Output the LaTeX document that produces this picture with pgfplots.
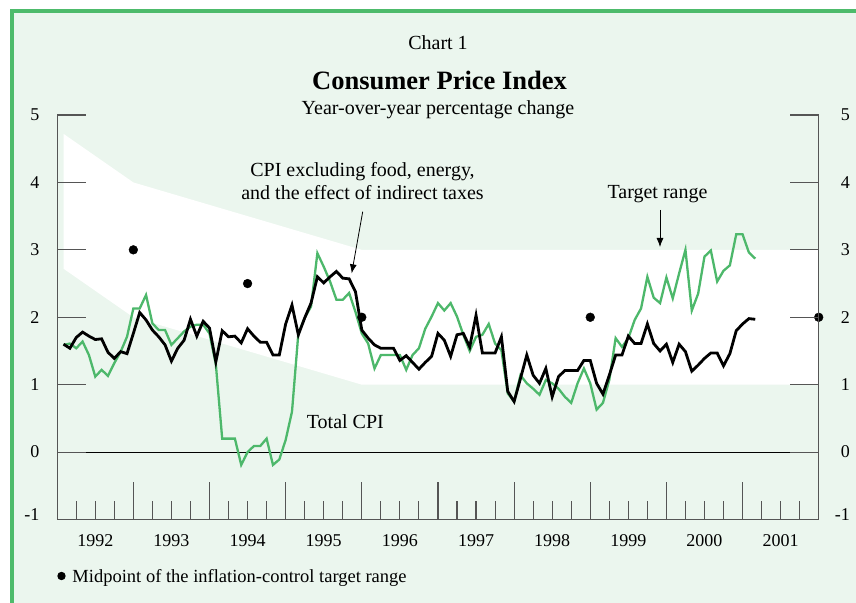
\documentclass[border=0pt]{standalone}
\usepackage{fontspec}
\setmainfont{Liberation Serif}
\usepackage{pgfplots}
\usepackage{pgfplotstable}
\pgfplotsset{compat=1.18}
\usetikzlibrary{arrows.meta}

\definecolor{mint}{HTML}{EBF6EE}
\definecolor{cpigreen}{HTML}{4DB86B}
\definecolor{framegreen}{HTML}{4DBB6B}
\definecolor{tickgray}{HTML}{555555}

% month index: 1 = Jan 1992 ... 110 = Feb 2001
\pgfplotstableread{
m core total
1 1.60 1.59
2 1.54 1.61
3 1.70 1.54
4 1.78 1.64
5 1.72 1.44
6 1.67 1.12
7 1.68 1.22
8 1.48 1.13
9 1.39 1.32
10 1.49 1.49
11 1.46 1.71
12 1.76 2.13
13 2.07 2.13
14 1.96 2.33
15 1.81 1.91
16 1.71 1.81
17 1.59 1.81
18 1.35 1.59
19 1.54 1.69
20 1.66 1.79
21 1.97 1.86
22 1.72 1.89
23 1.94 1.89
24 1.84 1.76
25 1.34 1.30
26 1.80 0.20
27 1.71 0.20
28 1.72 0.20
29 1.62 -0.19
30 1.83 0.00
31 1.72 0.09
32 1.63 0.09
33 1.63 0.20
34 1.44 -0.19
35 1.44 -0.11
36 1.90 0.18
37 2.18 0.60
38 1.74 1.76
39 1.99 1.99
40 2.21 2.16
41 2.60 2.95
42 2.51 2.75
43 2.60 2.53
44 2.68 2.26
45 2.58 2.26
46 2.57 2.36
47 2.38 2.08
48 1.81 1.76
49 1.69 1.61
50 1.59 1.24
51 1.54 1.44
52 1.54 1.44
53 1.54 1.44
54 1.36 1.44
55 1.43 1.22
56 1.33 1.44
57 1.23 1.54
58 1.33 1.83
59 1.42 2.01
60 1.76 2.21
61 1.66 2.10
62 1.42 2.21
63 1.74 2.01
64 1.76 1.74
65 1.56 1.50
66 2.03 1.71
67 1.47 1.74
68 1.47 1.90
69 1.47 1.61
70 1.71 1.51
71 0.90 0.87
72 0.75 0.75
73 1.09 1.14
74 1.44 1.02
75 1.14 0.94
76 1.02 0.85
77 1.24 1.07
78 0.82 1.02
79 1.12 0.94
80 1.21 0.82
81 1.21 0.73
82 1.21 1.02
83 1.36 1.24
84 1.36 1.02
85 1.02 0.63
86 0.86 0.73
87 1.14 1.07
88 1.44 1.69
89 1.44 1.56
90 1.72 1.69
91 1.61 1.96
92 1.61 2.13
93 1.90 2.60
94 1.61 2.29
95 1.50 2.21
96 1.60 2.59
97 1.33 2.28
98 1.60 2.65
99 1.49 3.00
100 1.20 2.10
101 1.29 2.35
102 1.39 2.90
103 1.47 2.99
104 1.47 2.53
105 1.28 2.69
106 1.46 2.77
107 1.80 3.23
108 1.90 3.23
109 1.98 2.96
110 1.97 2.87
}\cpidata

\newcommand{\fsz}[1]{\fontsize{#1bp}{#1bp}\selectfont}

\pgfplotsset{
  cpiframe/.style={
    at={(57.2bp,-519.5bp)}, anchor=south west,
    scale only axis, width=761.5bp, height=404.5bp,
    xmin=0, xmax=120, ymin=-1, ymax=5,
    tick align=inside,
    axis line style={tickgray, line width=1.1bp},
    tick style={tickgray, line width=1.1bp},
    tick label style={font=\fsz{18}, inner sep=0pt},
  },
}

\begin{document}
\begin{tikzpicture}[x=1bp,y=1bp]
\fill[white] (0,0) rectangle (856,-603);
\fill[mint] (12,-11.3) rectangle (856,-603);
\draw[framegreen, line width=4bp] (12,-9.3) -- (12,-603);
\draw[framegreen, line width=4bp] (10,-11.3) -- (856,-11.3);

% main axis: band, data, left scale
\begin{axis}[cpiframe, clip=false, axis on top,
  axis x line*=bottom, axis y line*=left,
  xtick=\empty,
  ytick={0,1,2,3,4,5}, yticklabels={0,1,2,3,4,5},
  extra y ticks={-1}, extra y tick labels={-1},
  extra y tick style={yticklabel style={yshift=5bp}},
  major tick length=29bp,
  yticklabel style={anchor=east, xshift=-17.7bp}]
\addplot[fill=white, draw=none] coordinates
  {(1,4.72) (12,4) (48,3) (120,3) (120,1) (48,1) (12,2) (1,2.72)} -- cycle;
\addplot[black, line width=0.9bp] coordinates {(0,0) (120,0)};
\addplot[cpigreen, line width=2.3bp] table[x=m, y=total] {\cpidata};
\addplot[black, line width=2.8bp] table[x=m, y=core] {\cpidata};
\addplot[only marks, mark=*, mark size=4.4bp, black] coordinates
  {(12,3) (30,2.5) (48,2) (84,2) (120,2)};
\end{axis}

% right scale
\begin{axis}[cpiframe,
  axis x line=none, axis y line*=right,
  ytick={0,1,2,3,4,5}, yticklabels={0,1,2,3,4,5},
  extra y ticks={-1}, extra y tick labels={-1},
  extra y tick style={yticklabel style={yshift=5bp}},
  major tick length=29bp,
  yticklabel style={anchor=east, xshift=31.3bp}]
\end{axis}

% time scale
\begin{axis}[cpiframe,
  axis y line=none, axis x line*=bottom,
  xtick={0,12,...,120}, xticklabels={,,,,,,,,,,},
  minor xtick={3,6,...,117},
  major tick length=38bp, minor tick length=19bp,
  extra x ticks={6,18,...,114},
  extra x tick labels={1992,1993,1994,1995,1996,1997,1998,1999,2000,2001},
  extra x tick style={major tick length=0pt},
  xticklabel style={anchor=base, yshift=-27.2bp}]
\end{axis}

\node[anchor=base, font=\fsz{20}] at (438,-50) {Chart 1};
\node[anchor=base, font=\bfseries\fsz{26.5}] at (439.5,-90) {Consumer Price Index};
\node[anchor=base, font=\fsz{20}] at (438,-115) {Year-over-year percentage change};
\node[anchor=base, font=\fsz{20}] at (362.5,-176.5) {CPI excluding food, energy,};
\node[anchor=base, font=\fsz{20}] at (362.5,-199.5) {and the effect of indirect taxes};
\draw[-{Latex[length=9bp,width=7bp]}, line width=0.8bp] (362.7,-211.7) -- (351.7,-273.3);
\node[anchor=base, font=\fsz{20}] at (657.5,-198.5) {Target range};
\draw[-{Latex[length=9bp,width=7bp]}, line width=0.8bp] (660,-210) -- (660,-247);
\node[anchor=base west, font=\fsz{20}, inner sep=0pt] at (306.7,-428) {Total CPI};
\fill[black] (61.5,-576) circle (4.2);
\node[anchor=base west, font=\fsz{18.5}, inner sep=0pt] at (72.3,-582.5)
  {Midpoint of the inflation-control target range};
\pgfresetboundingbox
\path[use as bounding box] (0,0) rectangle (856,-603);
\end{tikzpicture}
\end{document}
